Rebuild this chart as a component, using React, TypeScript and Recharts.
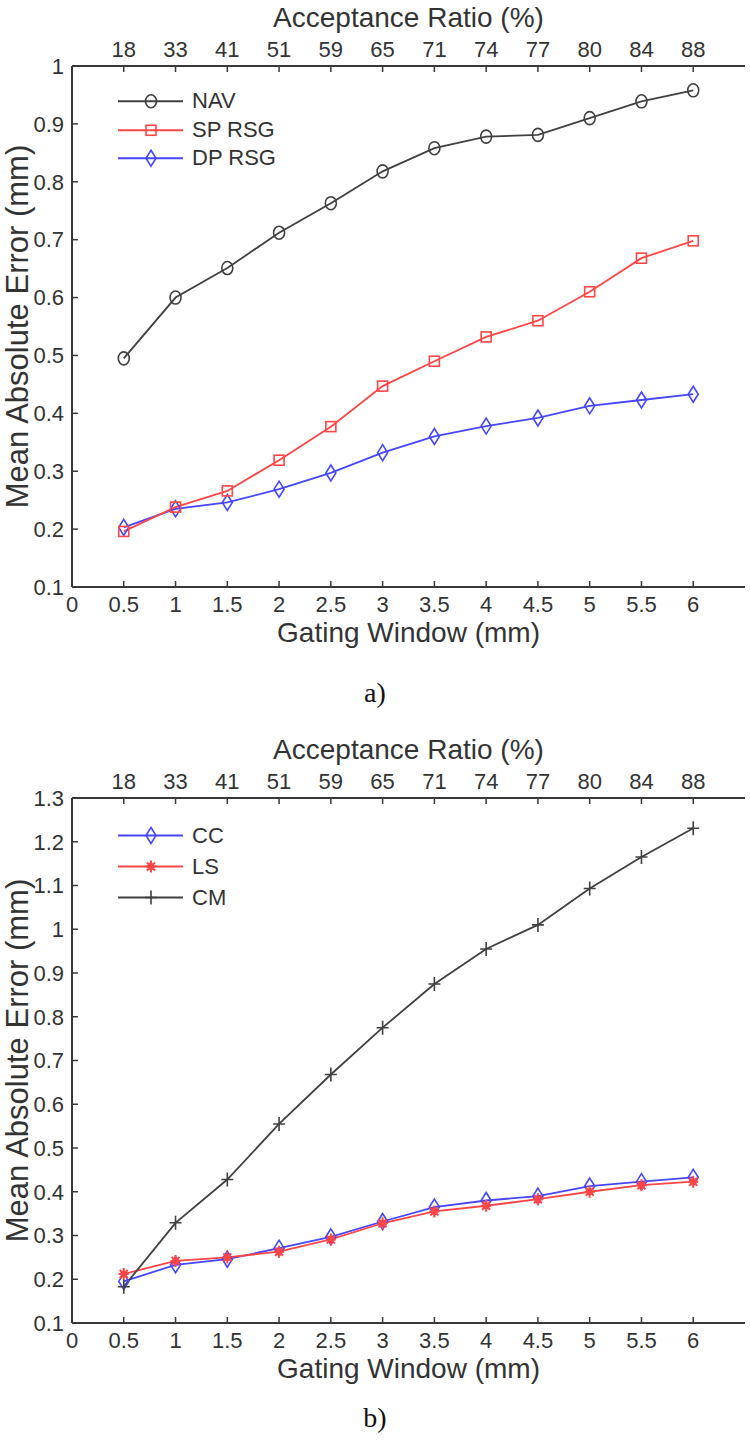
import React from 'react';
import { LineChart, Line, XAxis, YAxis, Legend } from 'recharts';

// gating window (mm) and the matching acceptance ratio (%) on the top axis
const gatingWindow = [0.5, 1, 1.5, 2, 2.5, 3, 3.5, 4, 4.5, 5, 5.5, 6];
const acceptanceRatio = ['18', '33', '41', '51', '59', '65', '71', '74', '77', '80', '84', '88'];
const gatingTicks = [0, 0.5, 1, 1.5, 2, 2.5, 3, 3.5, 4, 4.5, 5, 5.5, 6];

// panel a)
const nav = [0.495, 0.6, 0.651, 0.712, 0.763, 0.818, 0.858, 0.878, 0.881, 0.91, 0.939, 0.958];
const spRsg = [0.196, 0.238, 0.266, 0.319, 0.377, 0.447, 0.49, 0.532, 0.56, 0.61, 0.668, 0.698];
const dpRsg = [0.203, 0.235, 0.246, 0.269, 0.297, 0.332, 0.36, 0.378, 0.392, 0.413, 0.423, 0.433];
const yTicksA = [0.1, 0.2, 0.3, 0.4, 0.5, 0.6, 0.7, 0.8, 0.9, 1];

// panel b)
const cc = [0.195, 0.233, 0.246, 0.271, 0.297, 0.332, 0.365, 0.38, 0.39, 0.413, 0.423, 0.433];
const ls = [0.212, 0.242, 0.25, 0.263, 0.291, 0.328, 0.355, 0.368, 0.383, 0.4, 0.415, 0.423];
const cm = [0.183, 0.329, 0.428, 0.555, 0.668, 0.775, 0.875, 0.955, 1.01, 1.093, 1.165, 1.231];
const yTicksB = [0.1, 0.2, 0.3, 0.4, 0.5, 0.6, 0.7, 0.8, 0.9, 1, 1.1, 1.2, 1.3];

const dataA = gatingWindow.map((gw, i) => ({ gw, nav: nav[i], spRsg: spRsg[i], dpRsg: dpRsg[i] }));
const dataB = gatingWindow.map((gw, i) => ({ gw, cc: cc[i], ls: ls[i], cm: cm[i] }));

const FONT = '"Liberation Sans", Arial, sans-serif';
const AXIS = '#383838';
const TEXT = '#333';
const BLACK = '#404040';
const RED = '#ff4646';
const BLUE = '#4646ff';

type Kind = 'circle' | 'square' | 'diamond' | 'star' | 'plus';

function Marker({ kind, cx, cy, color }: { kind: Kind; cx: number; cy: number; color: string }) {
  const sw = 1.6;
  if (kind === 'circle') return <ellipse cx={cx} cy={cy} rx={5.5} ry={6.5} fill="none" stroke={color} strokeWidth={sw} />;
  if (kind === 'square')
    return <rect x={cx - 5} y={cy - 5} width={10} height={10} fill="none" stroke={color} strokeWidth={sw} />;
  if (kind === 'diamond')
    return (
      <polygon
        points={`${cx},${cy - 8} ${cx + 5},${cy} ${cx},${cy + 8} ${cx - 5},${cy}`}
        fill="none"
        stroke={color}
        strokeWidth={sw}
      />
    );
  if (kind === 'star')
    return (
      <g stroke={color} strokeWidth={2}>
        <path d={`M${cx - 5},${cy}H${cx + 5}M${cx},${cy - 6}V${cy + 6}M${cx - 4},${cy - 4}L${cx + 4},${cy + 4}M${cx - 4},${cy + 4}L${cx + 4},${cy - 4}`} />
        <circle cx={cx} cy={cy} r={2.5} fill={color} />
      </g>
    );
  return <path d={`M${cx - 6},${cy}H${cx + 6}M${cx},${cy - 7}V${cy + 7}`} stroke={color} strokeWidth={1.6} />;
}

const dotOf = (kind: Kind, color: string) => (p: any) =>
  <Marker key={`m-${kind}-${p.index}`} kind={kind} cx={p.cx} cy={p.cy} color={color} />;

type Entry = { name: string; kind: Kind; color: string };
const legendA: Entry[] = [
  { name: 'NAV', kind: 'circle', color: BLACK },
  { name: 'SP RSG', kind: 'square', color: RED },
  { name: 'DP RSG', kind: 'diamond', color: BLUE },
];
const legendB: Entry[] = [
  { name: 'CC', kind: 'diamond', color: BLUE },
  { name: 'LS', kind: 'star', color: RED },
  { name: 'CM', kind: 'plus', color: BLACK },
];

function LegendBox({ items, rowH }: { items: Entry[]; rowH: number }) {
  return (
    <div style={{ fontFamily: FONT, fontSize: 22, color: TEXT }}>
      {items.map((it) => (
        <div key={it.name} style={{ display: 'flex', alignItems: 'center', height: rowH }}>
          <svg width={80} height={rowH} style={{ display: 'block' }}>
            <line x1={8} x2={73} y1={rowH / 2} y2={rowH / 2} stroke={it.color} strokeWidth={1.8} />
            <Marker kind={it.kind} cx={41} cy={rowH / 2} color={it.color} />
          </svg>
          <span style={{ marginLeft: 2, lineHeight: 1 }}>{it.name}</span>
        </div>
      ))}
    </div>
  );
}

const tickStyle = { fill: TEXT, fontSize: 22, fontFamily: FONT };
const titleStyle = { fill: TEXT, fontSize: 28, fontFamily: FONT };
const yTitleStyle = { fill: TEXT, fontSize: 31, fontFamily: FONT };

function Panel({
  data,
  yTicks,
  height,
  topH,
  bottomH,
  topDy,
  bottomDy,
  legend,
  legendTop,
  rowH,
  children,
}: any) {
  return (
    <LineChart width={750} height={height} data={data} margin={{ top: 0, right: 5, bottom: 0, left: 0 }}>
      <XAxis
        dataKey="gw"
        type="number"
        domain={[0, 6.5]}
        ticks={gatingTicks}
        interval={0}
        allowDataOverflow
        height={bottomH}
        tickSize={-6}
        tickMargin={15}
        tick={tickStyle}
        tickFormatter={(v: number) => String(v)}
        axisLine={{ stroke: AXIS, strokeWidth: 2 }}
        tickLine={{ stroke: AXIS, strokeWidth: 1.5 }}
        label={{ value: 'Gating Window (mm)', position: 'center', dy: bottomDy, ...titleStyle }}
      />
      <XAxis
        xAxisId="top"
        orientation="top"
        dataKey="gw"
        type="number"
        domain={[0, 6.5]}
        ticks={gatingWindow}
        interval={0}
        allowDataOverflow
        height={topH}
        tickSize={-6}
        tickMargin={15}
        tick={tickStyle}
        tickFormatter={(v: number) => acceptanceRatio[gatingWindow.indexOf(v)] ?? ''}
        axisLine={{ stroke: AXIS, strokeWidth: 2 }}
        tickLine={{ stroke: AXIS, strokeWidth: 1.5 }}
        label={{ value: 'Acceptance Ratio (%)', position: 'center', dy: topDy, ...titleStyle }}
      />
      <YAxis
        type="number"
        domain={[yTicks[0], yTicks[yTicks.length - 1]]}
        ticks={yTicks}
        interval={0}
        allowDataOverflow
        width={72}
        tickSize={-6}
        tickMargin={14}
        tick={tickStyle}
        tickFormatter={(v: number) => String(v)}
        axisLine={{ stroke: AXIS, strokeWidth: 2 }}
        tickLine={{ stroke: AXIS, strokeWidth: 1.5 }}
        label={{ value: 'Mean Absolute Error (mm)', angle: -90, position: 'center', dx: -19, ...yTitleStyle }}
      />
      <Legend
        layout="horizontal"
        verticalAlign="middle"
        align="center"
        wrapperStyle={{ position: 'absolute', top: legendTop, left: 110, width: 220, height: 'auto' }}
        content={() => <LegendBox items={legend} rowH={rowH} />}
      />
      {children}
    </LineChart>
  );
}

export default function App() {
  return (
    <div style={{ position: 'absolute', left: 0, top: 0, width: 750, height: 1446, background: '#fff' }}>
      <div style={{ position: 'absolute', left: 0, top: 0 }}>
        <Panel
          data={dataA}
          yTicks={yTicksA}
          height={660}
          topH={66}
          bottomH={73}
          topDy={-16}
          bottomDy={8.5}
          legend={legendA}
          legendTop={87}
          rowH={28.5}
        >
          <Line dataKey="dpRsg" name="DP RSG" stroke={BLUE} strokeWidth={1.8} dot={dotOf('diamond', BLUE)} isAnimationActive={false} />
          <Line dataKey="spRsg" name="SP RSG" stroke={RED} strokeWidth={1.8} dot={dotOf('square', RED)} isAnimationActive={false} />
          <Line dataKey="nav" name="NAV" stroke={BLACK} strokeWidth={1.8} dot={dotOf('circle', BLACK)} isAnimationActive={false} />
        </Panel>
      </div>
      <div
        style={{ position: 'absolute', left: 0, top: 677, width: 750, textAlign: 'center', fontFamily: '"Liberation Serif", serif', fontSize: 28, color: '#111' }}
      >
        a)
      </div>
      <div style={{ position: 'absolute', left: 0, top: 700 }}>
        <Panel
          data={dataB}
          yTicks={yTicksB}
          height={700}
          topH={98}
          bottomH={77}
          topDy={0}
          bottomDy={6.5}
          legend={legendB}
          legendTop={120}
          rowH={31}
        >
          <Line dataKey="cc" name="CC" stroke={BLUE} strokeWidth={1.8} dot={dotOf('diamond', BLUE)} isAnimationActive={false} />
          <Line dataKey="ls" name="LS" stroke={RED} strokeWidth={1.8} dot={dotOf('star', RED)} isAnimationActive={false} />
          <Line dataKey="cm" name="CM" stroke={BLACK} strokeWidth={1.8} dot={dotOf('plus', BLACK)} isAnimationActive={false} />
        </Panel>
      </div>
      <div
        style={{ position: 'absolute', left: 0, top: 1402, width: 750, textAlign: 'center', fontFamily: '"Liberation Serif", serif', fontSize: 28, color: '#111' }}
      >
        b)
      </div>
    </div>
  );
}
